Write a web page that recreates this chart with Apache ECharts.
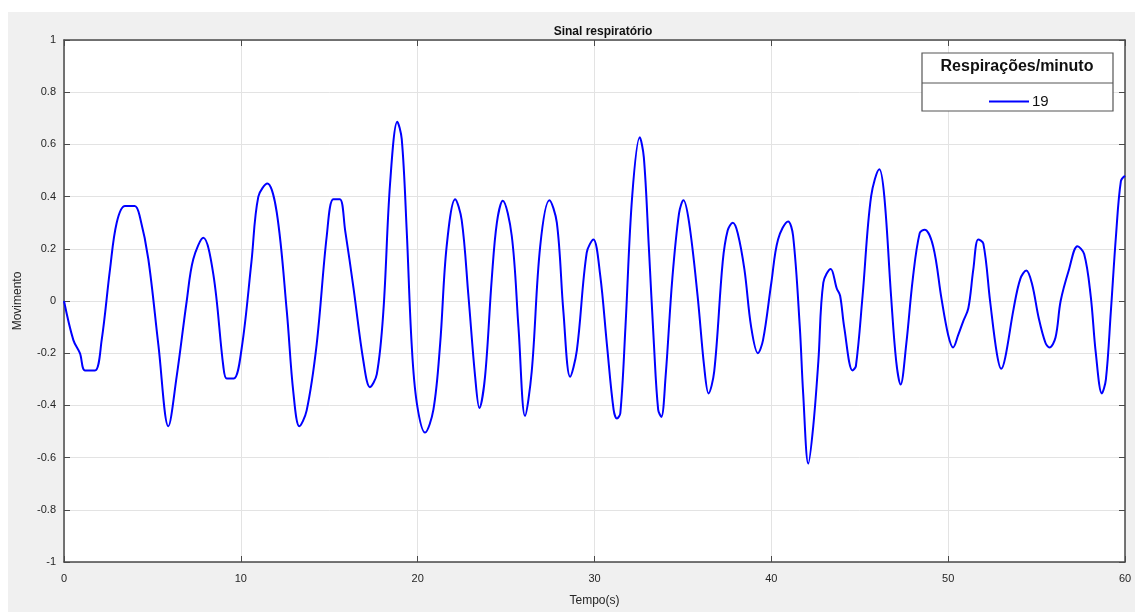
<!DOCTYPE html>
<html><head><meta charset="utf-8">
<script src="https://cdn.jsdelivr.net/npm/echarts@6/dist/echarts.min.js"></script>
<style>
html,body{margin:0;padding:0;background:#fff;}
#wrap{position:relative;width:1135px;height:612px;background:#fff;}
#fig{position:absolute;left:8px;top:12px;width:1127px;height:600px;background:#f0f0f0;}
#chart{position:absolute;left:0;top:0;width:1135px;height:612px;}
</style></head>
<body><div id="wrap"><div id="fig"></div><div id="chart"></div></div>
<script>
const titleText = 'Sinal respiratório';
const xName = 'Tempo(s)';
const yName = 'Movimento';
const legendTitle = 'Respirações/minuto';
const seriesName = '19';
const xTicks = [0, 10, 20, 30, 40, 50, 60];
const yTicks = [-1, -0.8, -0.6, -0.4, -0.2, 0, 0.2, 0.4, 0.6, 0.8, 1];
const time = [0,0.53,0.9,1.19,1.75,2.13,2.6,2.98,3.45,4.0,4.3,4.77,5.34,5.9,6.37,6.94,7.31,7.88,8.45,9.01,9.2,9.6,10.05,10.6,10.99,11.5,12.03,12.6,12.97,13.31,13.72,14.29,14.86,15.23,15.6,15.9,16.37,16.93,17.3,17.69,18.06,18.44,18.85,19.1,19.38,19.66,19.95,20.42,20.89,21.27,21.64,22.12,22.49,22.87,23.25,23.49,23.81,24.19,24.48,24.81,25.32,25.7,26.07,26.45,26.93,27.45,27.87,28.24,28.62,29.0,29.56,29.94,30.32,30.7,31.08,31.27,31.46,31.75,32.13,32.56,32.79,33.07,33.36,33.6,33.78,34.02,34.4,34.78,35.03,35.35,35.83,36.2,36.45,36.77,37.25,37.53,37.82,38.1,38.48,38.86,39.24,39.53,40.0,40.38,40.95,41.23,41.61,41.8,42.09,42.37,42.66,42.94,43.36,43.7,43.89,44.12,44.59,44.78,45.16,45.64,46.11,46.39,46.77,47.06,47.31,47.63,48.0,48.39,48.67,49.15,49.62,50.0,50.28,50.57,50.85,51.14,51.42,51.7,51.99,52.37,52.75,53.0,53.23,53.7,54.08,54.42,54.74,55.12,55.5,55.73,56.07,56.36,56.83,57.31,57.69,58.06,58.35,58.69,58.92,59.2,59.49,59.77,60.0];
const movimento = [0,-0.15,-0.2,-0.266,-0.266,-0.15,0.12,0.30,0.364,0.364,0.32,0.16,-0.17,-0.48,-0.29,0,0.16,0.242,0.1,-0.25,-0.297,-0.297,-0.18,0.15,0.40,0.45,0.34,-0.04,-0.35,-0.48,-0.42,-0.165,0.25,0.39,0.39,0.27,0.05,-0.23,-0.33,-0.28,-0.04,0.45,0.687,0.62,0.27,-0.165,-0.39,-0.504,-0.416,-0.165,0.21,0.39,0.31,0.02,-0.29,-0.41,-0.29,0.085,0.30,0.384,0.25,-0.10,-0.44,-0.27,0.21,0.386,0.30,-0.04,-0.29,-0.19,0.185,0.236,0.10,-0.165,-0.416,-0.45,-0.43,-0.10,0.40,0.627,0.55,0.21,-0.165,-0.416,-0.444,-0.29,0.085,0.336,0.386,0.30,0.02,-0.25,-0.354,-0.27,0.15,0.27,0.30,0.26,0.12,-0.10,-0.20,-0.15,0.07,0.236,0.305,0.25,-0.10,-0.354,-0.623,-0.48,-0.23,0.07,0.123,0.048,0.02,-0.10,-0.266,-0.25,0.02,0.40,0.505,0.40,0.02,-0.23,-0.32,-0.165,0.085,0.26,0.273,0.21,0.01,-0.13,-0.178,-0.13,-0.078,-0.028,0.12,0.236,0.22,0,-0.20,-0.26,-0.216,-0.03,0.085,0.117,0.066,-0.065,-0.16,-0.178,-0.14,0,0.12,0.21,0.18,0.02,-0.20,-0.354,-0.30,-0.04,0.25,0.46,0.48];

const data = time.map((t, i) => [t, movimento[i]]);
const axisColor = '#4a4a4a';
const labelColor = '#262626';
const fmtY = v => String(Math.round(v * 10) / 10);

const chart = echarts.init(document.getElementById('chart'), null, {renderer: 'canvas'});
const baseX = {
  type: 'value', min: xTicks[0], max: xTicks[xTicks.length - 1], interval: xTicks[1] - xTicks[0],
  axisLine: {show: true, onZero: false, lineStyle: {color: axisColor, width: 1.5}},
  axisTick: {show: true, inside: true, length: 6, lineStyle: {color: axisColor}},
  splitLine: {show: false}
};
const baseY = {
  type: 'value', min: yTicks[0], max: yTicks[yTicks.length - 1], interval: 0.2,
  axisLine: {show: true, onZero: false, lineStyle: {color: axisColor, width: 1.5}},
  axisTick: {show: true, inside: true, length: 6, lineStyle: {color: axisColor}},
  splitLine: {show: false}
};
chart.setOption({
  backgroundColor: 'transparent',
  animation: false,
  title: {
    text: titleText, left: 598, textAlign: 'center', top: 21,
    textStyle: {fontFamily: 'Liberation Sans, Arial', fontSize: 12, fontWeight: 'bold', color: '#111'}
  },
  grid: {left: 64, right: 10, top: 40, bottom: 40, show: true, backgroundColor: '#fff', borderWidth: 0},
  legend: {
    data: [seriesName], left: 984, top: 89, itemWidth: 40, itemHeight: 2, itemGap: 4,
    icon: 'rect', z: 300,
    textStyle: {fontFamily: 'Liberation Sans, Arial', fontSize: 15, color: '#111', padding: [0, 0, 0, -2]}
  },
  xAxis: [
    Object.assign({}, baseX, {
      position: 'bottom',
      name: xName, nameLocation: 'middle', nameGap: 33,
      nameTextStyle: {fontFamily: 'Liberation Sans, Arial', fontSize: 12, color: labelColor},
      axisLabel: {show: true, margin: 11, color: labelColor, fontFamily: 'Liberation Sans, Arial', fontSize: 11},
      splitLine: {show: true, lineStyle: {color: '#e3e3e3', width: 1}}
    }),
    Object.assign({}, baseX, {position: 'top', axisLabel: {show: false}})
  ],
  yAxis: [
    Object.assign({}, baseY, {
      position: 'left',
      name: yName, nameLocation: 'middle', nameGap: 40, nameRotate: 90,
      nameTextStyle: {fontFamily: 'Liberation Sans, Arial', fontSize: 12, color: labelColor},
      axisLabel: {show: true, margin: 8, color: labelColor, fontFamily: 'Liberation Sans, Arial', fontSize: 11, formatter: fmtY},
      splitLine: {show: true, lineStyle: {color: '#e3e3e3', width: 1}}
    }),
    Object.assign({}, baseY, {position: 'right', axisLabel: {show: false}})
  ],
  graphic: [
    {type: 'rect', z: 100, shape: {x: 922, y: 53, width: 191, height: 58},
      style: {fill: '#fff', stroke: '#555', lineWidth: 1.2}},
    {type: 'line', z: 101, shape: {x1: 922, y1: 83, x2: 1113, y2: 83}, style: {stroke: '#555', lineWidth: 1}},
    {type: 'text', z: 101, x: 1017, y: 59,
      style: {text: legendTitle, textAlign: 'center', textVerticalAlign: 'top', fontFamily: 'Liberation Sans, Arial', fontSize: 16, fontWeight: 'bold', fill: '#111'}}
  ],
  series: [{
    name: seriesName, type: 'line', data: data, showSymbol: false, smooth: 0.35,
    xAxisIndex: 0, yAxisIndex: 0,
    lineStyle: {color: '#0000ff', width: 2}, itemStyle: {color: '#0000ff'}
  }]
});
</script></body></html>
